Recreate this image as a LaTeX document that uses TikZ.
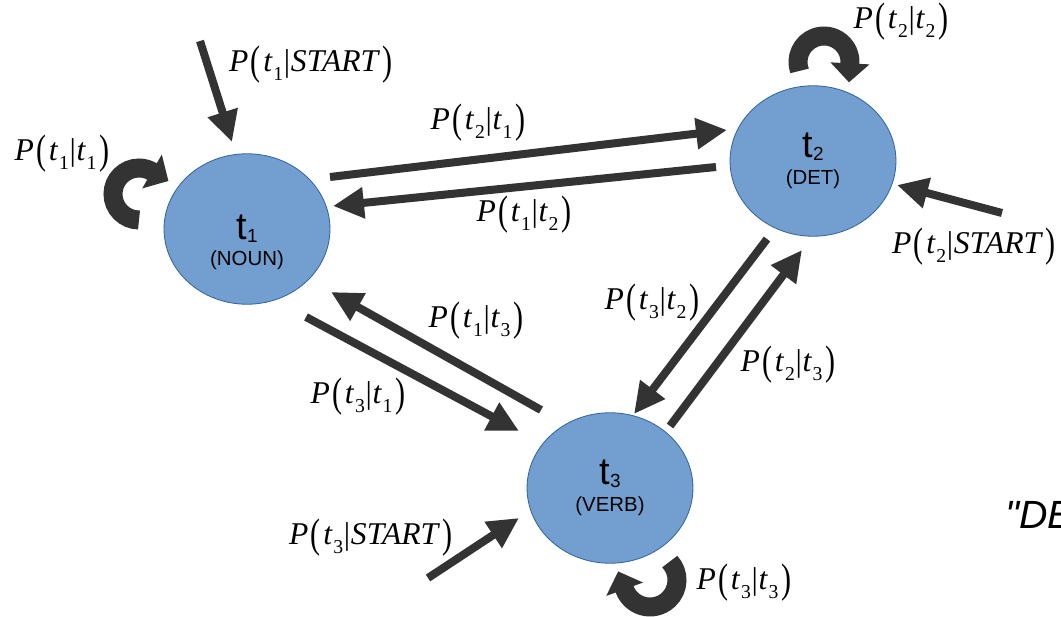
\documentclass[tikz,border=0pt]{standalone}
\usepackage{fontspec}
\setmainfont{Liberation Serif}
\setsansfont{Liberation Sans}
\newfontfamily\quotefont{Liberation Sans}
\usetikzlibrary{arrows.meta,shapes.geometric,calc}
\definecolor{statefill}{HTML}{729FCF}
\definecolor{stateborder}{HTML}{3465A4}
\definecolor{arrowgray}{HTML}{333333}
\newcommand{\pbig}[1]{\raisebox{-0.1em}{\scalebox{0.95}[1.3]{#1}}}
\newcommand{\tsub}[1]{\textit{t}\kern0.5pt\raisebox{-0.28em}{\fontsize{14}{14}\selectfont #1}}
\newcommand{\prob}[2]{\textit{P}\kern1.5pt\pbig{(}\kern2pt\tsub{#1}\kern0.5pt|\kern0.5pt#2\kern2pt\pbig{)}}
\newcommand{\tagname}[2]{{\fontsize{27}{18}\selectfont t\kern0.3pt\raisebox{-0.08em}{\fontsize{13.5}{13.5}\selectfont #1}}\\{#2}}
\begin{document}
\begin{tikzpicture}[x=0.025cm,y=0.025cm,
  state/.style={ellipse, draw=stateborder, fill=statefill, line width=0.6pt,
    minimum width=118pt, minimum height=107pt, inner sep=0pt, align=center,
    font=\sffamily\fontsize{14.5}{19}\selectfont},
  conn/.style={draw=arrowgray, line width=5.7pt, -{Triangle[length=22pt,width=21pt]}},
  selfloop/.style={draw=arrowgray, line width=13.5pt, -{Triangle[length=13.5pt,width=27pt]}},
  lbl/.style={font=\fontsize{22.5}{26}\selectfont, inner sep=0pt},
  quote/.style={font=\quotefont\itshape\fontsize{28}{30}\selectfont, inner sep=0pt, anchor=base west}
]
\fill[white] (0,0) rectangle (1061,-617);
\useasboundingbox (0,0) rectangle (1061,-617);

% states
\node[state, text depth=0pt] (t1) at (247,-229) {\raisebox{-3pt}{\parbox{80pt}{\centering\tagname{1}{(NOUN)}}}};
\node[state] (t2) at (813,-161) {\raisebox{-3pt}{\parbox{80pt}{\centering\tagname{2}{(DET)}}}};
\node[state] (t3) at (610,-488) {\raisebox{-3pt}{\parbox{80pt}{\centering\tagname{3}{(VERB)}}}};

% connector end points
\coordinate (s1) at (200,-41);   \coordinate (e1) at (232,-142);
\coordinate (s2) at (1002,-213); \coordinate (e2) at (897,-185);
\coordinate (s3) at (428,-578);  \coordinate (e3) at (519,-518);
\coordinate (a12s) at (330,-177); \coordinate (a12e) at (727,-130);
\coordinate (a21s) at (716,-167); \coordinate (a21e) at (333,-206);
\coordinate (a23s) at (767,-239); \coordinate (a23e) at (634,-414);
\coordinate (a32s) at (670,-426); \coordinate (a32e) at (802,-250);
\coordinate (a13s) at (306,-317); \coordinate (a13e) at (519,-431);
\coordinate (a31s) at (541,-410); \coordinate (a31e) at (331,-292);

% start transitions
\draw[conn] (s1) -- (e1);
\draw[conn] (s2) -- (e2);
\draw[conn] (s3) -- (e3);
% transitions between states
\draw[conn] (a12s) -- (a12e);
\draw[conn] (a21s) -- (a21e);
\draw[conn] (a23s) -- (a23e);
\draw[conn] (a32s) -- (a32e);
\draw[conn] (a13s) -- (a13e);
\draw[conn] (a31s) -- (a31e);

% self loops
\coordinate (c1) at (139,-194);
\coordinate (c2) at (824,-62);
\coordinate (c3) at (650,-580);
\draw[selfloop] ($(c1)+(270:26)$) arc[start angle=270, end angle=60, radius=26] -- ++(-30:19);
\draw[selfloop] ($(c2)+(200:26)$) arc[start angle=200, end angle=-3, radius=26] -- ++(-93:19);
\draw[selfloop] ($(c3)+(43:27)$) arc[start angle=43, end angle=-160, radius=27] -- ++(110:19);

% labels
\node[lbl] (l1) at (311,-65) {\prob{1}{\textit{START}}};
\node[lbl] (l2) at (62,-154) {\prob{1}{\tsub{1}}};
\node[lbl] (l3) at (478,-123) {\prob{2}{\tsub{1}}};
\node[lbl] (l4) at (524,-215) {\prob{1}{\tsub{2}}};
\node[lbl] (l5) at (901,-22) {\prob{2}{\tsub{2}}};
\node[lbl] (l6) at (974,-247) {\prob{2}{\textit{START}}};
\node[lbl] (l7) at (652,-303) {\prob{3}{\tsub{2}}};
\node[lbl] (l8) at (476,-321) {\prob{1}{\tsub{3}}};
\node[lbl] (l9) at (788,-365) {\prob{2}{\tsub{3}}};
\node[lbl] (l10) at (358,-397) {\prob{3}{\tsub{1}}};
\node[lbl] (l11) at (371,-538) {\prob{3}{\textit{START}}};
\node[lbl] (l12) at (744,-583) {\prob{3}{\tsub{3}}};

\node[quote] (q) at (1005,-528) {"DE};
\end{tikzpicture}
\end{document}
